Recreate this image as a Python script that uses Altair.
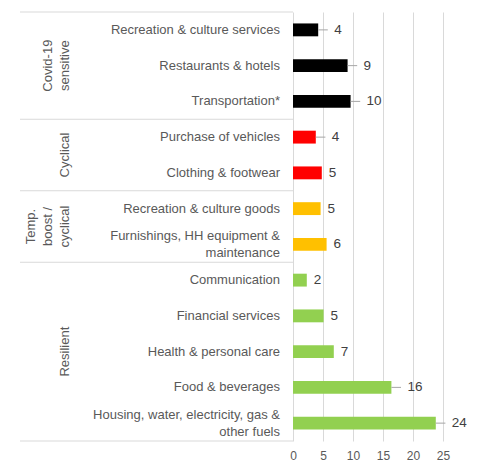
import altair as alt
import pandas as pd

categories = [
    "Recreation & culture services",
    "Restaurants & hotels",
    "Transportation*",
    "Purchase of vehicles",
    "Clothing & footwear",
    "Recreation & culture goods",
    "Furnishings, HH equipment &\nmaintenance",
    "Communication",
    "Financial services",
    "Health & personal care",
    "Food & beverages",
    "Housing, water, electricity, gas &\nother fuels",
]
values = [4.2, 9.1, 9.6, 3.8, 4.8, 4.6, 5.6, 2.3, 5.1, 6.8, 16.4, 23.8]
value_labels = [4, 9, 10, 4, 5, 5, 6, 2, 5, 7, 16, 24]
has_leader = [True, True, True, True, False, False, False, False, False, False, True, True]

group_names = ["Covid-19\nsensitive", "Cyclical", "Temp.\nboost /\ncyclical", "Resilient"]
group_sizes = [3, 2, 2, 5]
group_colors = ["#000000", "#FF0000", "#FFC000", "#92D050"]
x_ticks = [0, 5, 10, 15, 20, 25]

FONT = "Liberation Sans"
CAT_LH = 17
GRP_LH = 17

groups = []
for g, n in zip(group_names, group_sizes):
    groups += [g] * n

df = pd.DataFrame({
    "cat": categories,
    "value": values,
    "label": value_labels,
    "group": groups,
    "leader": has_leader,
})
df["lead_end"] = df["value"] + 1.6

# category label lines (one row per text line)
cat_rows = []
for c in categories:
    parts = c.split("\n")
    n = len(parts)
    for k, p in enumerate(parts):
        cat_rows.append({"cat": c, "line": p, "off": (k - (n - 1) / 2) * CAT_LH})
cdf = pd.DataFrame(cat_rows)

# group boundaries and label lines
bounds = [0]
for n in group_sizes:
    bounds.append(bounds[-1] + n)
n_rows = bounds[-1]
g_rows = []
for i, g in enumerate(group_names):
    parts = g.split("\n")
    n = len(parts)
    for k, p in enumerate(parts):
        g_rows.append({"line": p, "pos": (bounds[i] + bounds[i + 1]) / 2, "kend": n - 1 - k})
gdf = pd.DataFrame(g_rows)
sdf = pd.DataFrame({"pos": bounds})

yband = alt.Y("cat:N", sort=categories, axis=None,
              scale=alt.Scale(domain=categories, paddingInner=0.64, paddingOuter=0.32))
xaxis = alt.Axis(values=x_ticks, grid=True, gridColor="#d9d9d9", domain=False,
                 ticks=False, labelColor="#595959", labelFontSize=12, labelFont=FONT,
                 labelPadding=9, labelOverlap=False, labelFlush=False, title=None)
xscale = alt.Scale(domain=[0, 25], nice=False)
xq = alt.X("value:Q", scale=xscale, axis=xaxis)
yq = alt.Y("pos:Q", scale=alt.Scale(domain=[0, n_rows], reverse=True, nice=False, zero=False), axis=None)

base = alt.Chart(df)

bars = base.mark_bar().encode(
    x=xq, y=yband,
    color=alt.Color("group:N", scale=alt.Scale(domain=group_names, range=group_colors), legend=None),
)

leaders = base.mark_rule(color="#a6a6a6", strokeWidth=1).encode(
    x=xq, x2="lead_end:Q", y=yband,
    opacity=alt.condition("datum.leader", alt.value(1), alt.value(0)),
)

lab_lead = base.mark_text(
    align="left", baseline="middle", dx=16, fontSize=13.5, font=FONT, color="#404040"
).encode(x=xq, y=yband, text="label:Q",
         opacity=alt.condition("datum.leader", alt.value(1), alt.value(0)))

lab_plain = base.mark_text(
    align="left", baseline="middle", dx=7, fontSize=13.5, font=FONT, color="#404040"
).encode(x=xq, y=yband, text="label:Q",
         opacity=alt.condition("datum.leader", alt.value(0), alt.value(1)))

cat_layers = []
for off in sorted(cdf["off"].unique()):
    cat_layers.append(
        alt.Chart(cdf).transform_filter(f"datum.off == {off}").mark_text(
            align="right", baseline="middle", fontSize=13, font=FONT, color="#595959", dy=float(off)
        ).encode(x=alt.value(-13), y=yband, text="line:N")
    )

seps = alt.Chart(sdf).mark_rule(color="#d9d9d9", strokeWidth=1).encode(
    x=alt.value(-273), x2=alt.value(0), y=yq)

g_layers = []
for k in sorted(gdf["kend"].unique()):
    g_layers.append(
        alt.Chart(gdf).transform_filter(f"datum.kend == {k}").mark_text(
            angle=270, align="center", baseline="bottom", fontSize=13, font=FONT, color="#595959"
        ).encode(x=alt.value(-221 - int(k) * GRP_LH), y=yq, text="line:N")
    )

inner = alt.layer(bars, leaders, lab_lead, lab_plain, *cat_layers)
chart = alt.layer(inner, seps, *g_layers).resolve_scale(
    y="independent"
).properties(
    width=150, height=429,
    autosize=alt.AutoSizeParams(type="none"),
    padding={"left": 285, "top": 4, "right": 40, "bottom": 30},
).configure_view(stroke=None)

chart.save("out.html", embed_options={"renderer": "svg", "actions": False})
